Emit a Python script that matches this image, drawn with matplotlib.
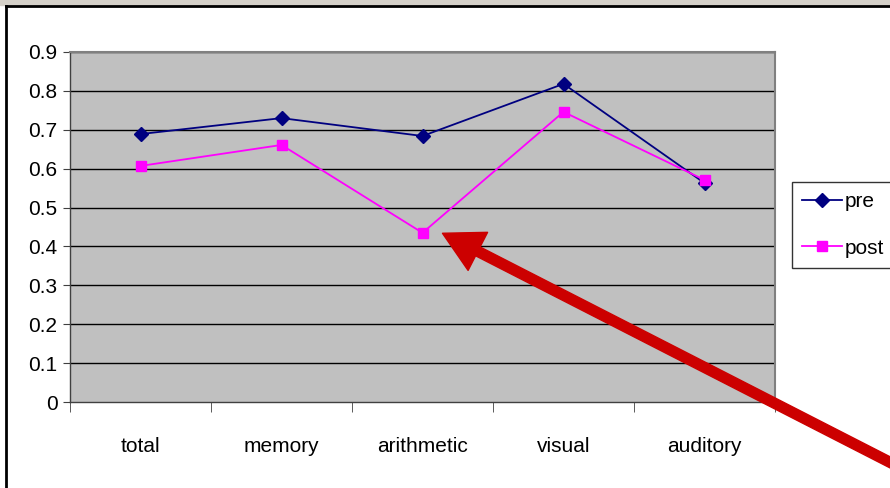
import matplotlib.pyplot as plt
from matplotlib.patches import Rectangle, FancyArrowPatch
from matplotlib.lines import Line2D

# chart values
categories = ['total', 'memory', 'arithmetic', 'visual', 'auditory']
pre = [0.689, 0.730, 0.684, 0.818, 0.563]
post = [0.607, 0.661, 0.435, 0.746, 0.571]
y_ticks = [0, 0.1, 0.2, 0.3, 0.4, 0.5, 0.6, 0.7, 0.8, 0.9]

plt.rcParams['font.family'] = ['Liberation Sans', 'DejaVu Sans']

W, H = 890, 488
fig = plt.figure(figsize=(W / 100, H / 100), dpi=100)

# window strip and outer frame
fig.patches.append(Rectangle((0, (H - 5) / H), 1, 5 / H, transform=fig.transFigure,
                             color='#d4d0c8', zorder=0))
fig.lines.append(Line2D([6 / W, 6 / W], [0, (H - 6) / H], transform=fig.transFigure,
                        color='black', lw=2))
fig.lines.append(Line2D([6 / W, 1], [(H - 6) / H, (H - 6) / H], transform=fig.transFigure,
                        color='black', lw=2))

ax = fig.add_axes([70 / W, (H - 402) / H, 705 / W, 350 / H])
ax.set_facecolor('#c0c0c0')
x = list(range(len(categories)))

for yv in y_ticks[1:]:
    ax.axhline(yv, color='black', lw=1, zorder=1)

ax.plot(x, pre, color='#000080', marker='D', markersize=7, lw=1.3, label='pre', zorder=3)
ax.plot(x, post, color='#ff00ff', marker='s', markersize=7, lw=1.3, label='post', zorder=3)

ax.set_xlim(-0.5, len(categories) - 0.5)
ax.set_ylim(0, 0.9)
ax.set_yticks(y_ticks)
ax.set_yticklabels(['0' if v == 0 else f'{v:.1f}' for v in y_ticks], fontsize=15)
ax.set_xticks(x)
ax.set_xticklabels(categories, fontsize=15)
ax.set_xticks([i - 0.5 for i in range(len(categories) + 1)], minor=True)
ax.tick_params(axis='x', which='major', length=0, pad=25)
ax.tick_params(axis='x', which='minor', length=7, direction='out', color='#404040')
ax.tick_params(axis='y', length=5, direction='out', pad=4, color='#404040')

for side in ['top', 'right']:
    ax.spines[side].set_color('#808080')
    ax.spines[side].set_linewidth(1.5)
for side in ['left', 'bottom']:
    ax.spines[side].set_color('#404040')
    ax.spines[side].set_linewidth(1)

leg = fig.legend(loc='upper left', bbox_to_anchor=(792 / W, (H - 182) / H),
                 fontsize=15, frameon=True, fancybox=False, edgecolor='black',
                 borderpad=0.5, labelspacing=1.3, handlelength=1.9, handletextpad=0.15,
                 borderaxespad=0)
leg.get_frame().set_linewidth(1)

# red arrow pointing at the arithmetic dip
fig.patches.append(FancyArrowPatch(
    (905 / W, (H - 470) / H), (440 / W, (H - 232) / H), transform=fig.transFigure,
    arrowstyle='simple,head_length=2.6,head_width=2.8,tail_width=0.65',
    mutation_scale=11, color='#cc0000', zorder=10, clip_on=False))

fig.savefig('out.png', dpi=100)
